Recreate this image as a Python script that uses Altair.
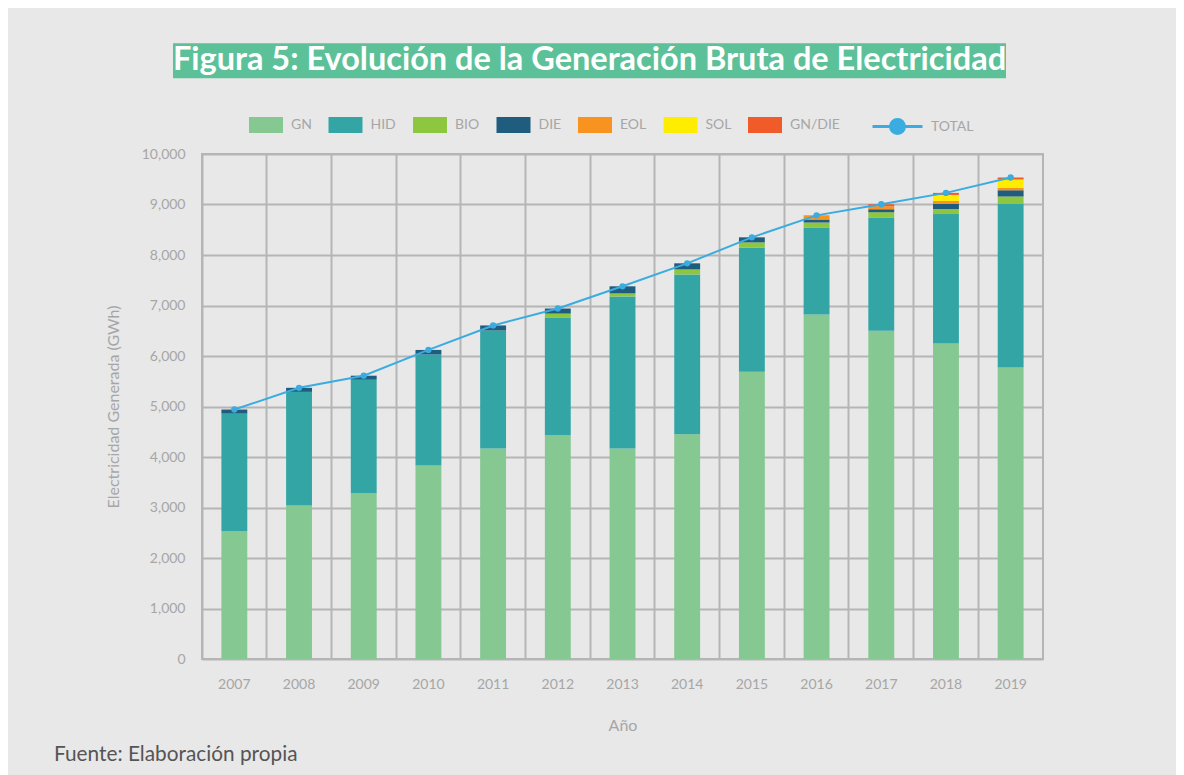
import altair as alt
import pandas as pd

years = ["2007", "2008", "2009", "2010", "2011", "2012", "2013",
         "2014", "2015", "2016", "2017", "2018", "2019"]
series = ["GN", "HID", "BIO", "DIE", "EOL", "SOL", "GN/DIE"]
colors = ["#85C891", "#33A5A5", "#8DC63F", "#1F5C7E", "#F7931E", "#FFED00", "#F15A29"]

gn     = [2530, 3040, 3280, 3830, 4170, 4430, 4170, 4450, 5690, 6820, 6500, 6250, 5770]
hid    = [2330, 2250, 2250, 2200, 2335, 2330, 3010, 3165, 2460, 1725, 2245, 2560, 3250]
bio    = [0, 0, 0, 0, 0, 80, 60, 100, 100, 100, 100, 100, 140]
die    = [80, 80, 80, 90, 100, 100, 140, 120, 100, 60, 60, 100, 120]
eol    = [0, 0, 0, 0, 0, 0, 0, 0, 0, 80, 60, 60, 45]
sol    = [0, 0, 0, 0, 0, 0, 0, 0, 0, 0, 0, 120, 170]
gndie  = [0, 0, 0, 0, 0, 0, 0, 0, 0, 0, 40, 40, 40]
total  = [4940, 5370, 5610, 6120, 6605, 6940, 7380, 7835, 8350, 8785, 9005, 9230, 9535]

y_ticks = [0, 1000, 2000, 3000, 4000, 5000, 6000, 7000, 8000, 9000, 10000]

title_text = "Figura 5: Evolución de la Generación Bruta de Electricidad"
source_text = "Fuente: Elaboración propia"

values = [gn, hid, bio, die, eol, sol, gndie]
rows = []
for si, (s, vals) in enumerate(zip(series, values)):
    for y, v in zip(years, vals):
        rows.append({"Año": y, "serie": s, "idx": si, "valor": v})
bars_df = pd.DataFrame(rows)
tot_df = pd.DataFrame({"Año": years, "valor": total, "serie": ["TOTAL"] * len(years)})

FONT = "Lato"
GRID = "#B5B5B5"
LABEL = "#A6A6A6"
W, H = 841, 505

xscale = alt.Scale(domain=years, paddingInner=0, paddingOuter=0)
yscale = alt.Scale(domain=[0, 10000], nice=False)

rect_path = "M-1,-0.47H1V0.47H-1Z"
line_path = "M-1,0H1M-0.28,0A0.28,0.28 0 1 1 0.28,0A0.28,0.28 0 1 1 -0.28,0Z"

bars = alt.Chart(bars_df).mark_bar(width=alt.RelativeBandSize(0.4)).encode(
    x=alt.X("Año:N", scale=xscale, sort=years,
            axis=alt.Axis(title="Año", grid=True, bandPosition=0, labelAngle=0,
                          labelPadding=18, titlePadding=26, domain=False, ticks=False)),
    y=alt.Y("valor:Q", stack="zero", scale=yscale,
            axis=alt.Axis(title="Electricidad Generada (GWh)", values=y_ticks, format=",d",
                          labelPadding=17, titlePadding=20, domain=False, ticks=False)),
    color=alt.Color("serie:N", scale=alt.Scale(domain=series, range=colors),
                    legend=alt.Legend(title=None, orient="none", direction="horizontal",
                                      legendX=47, legendY=-46,
                                      symbolType=rect_path, symbolSize=1156,
                                      symbolStrokeWidth=0, labelFontSize=14,
                                      labelFont=FONT, labelColor=LABEL, labelOffset=8,
                                      columnPadding=16.5)),
    order=alt.Order("idx:Q"),
)

line = alt.Chart(tot_df).mark_line(strokeWidth=2).encode(
    x=alt.X("Año:N", scale=xscale, sort=years),
    y=alt.Y("valor:Q", scale=yscale),
    stroke=alt.Stroke("serie:N", scale=alt.Scale(domain=["TOTAL"], range=["#3AACE0"]),
                      legend=alt.Legend(title=None, orient="none", direction="horizontal",
                                        legendX=669, legendY=-54,
                                        symbolType=line_path, symbolSize=2500,
                                        symbolStrokeWidth=3, symbolFillColor="#3AACE0",
                                        labelFontSize=14, labelFont=FONT,
                                        labelColor=LABEL, labelOffset=7)),
)

pts = alt.Chart(tot_df).mark_point(filled=True, size=40, color="#3AACE0", opacity=1).encode(
    x=alt.X("Año:N", scale=xscale, sort=years),
    y=alt.Y("valor:Q", scale=yscale),
)

title_df = pd.DataFrame({"t": [title_text]})
title_bg = alt.Chart(title_df).mark_rect(color="#5CC199").encode(
    x=alt.value(-29), x2=alt.value(804), y=alt.value(-110.7), y2=alt.value(-75.7)
)
title_txt = alt.Chart(title_df).mark_text(
    font=FONT, fontWeight="bold", fontSize=32.5, color="white", align="center",
    baseline="alphabetic"
).encode(text="t:N", x=alt.value(387.5), y=alt.value(-84))

src_df = pd.DataFrame({"t": [source_text]})
src_txt = alt.Chart(src_df).mark_text(
    font=FONT, fontSize=20.8, color="#555555", align="left", baseline="alphabetic"
).encode(text="t:N", x=alt.value(-148), y=alt.value(607))

chart = alt.layer(title_bg, title_txt, bars, line, pts, src_txt).properties(
    width=W, height=H,
    autosize=alt.AutoSizeParams(type="none"),
    padding={"left": 194, "top": 146, "right": 133, "bottom": 116},
    background="#E8E8E8",
).resolve_legend(color="independent", stroke="independent").configure_view(
    stroke=GRID, strokeWidth=2
).configure_axis(
    labelFont=FONT, titleFont=FONT, labelColor=LABEL, titleColor=LABEL,
    labelFontSize=14, titleFontSize=16, titleFontWeight="normal",
    gridColor=GRID, gridWidth=2,
)

chart.save("out.html", embed_options={"renderer": "svg", "actions": False})
